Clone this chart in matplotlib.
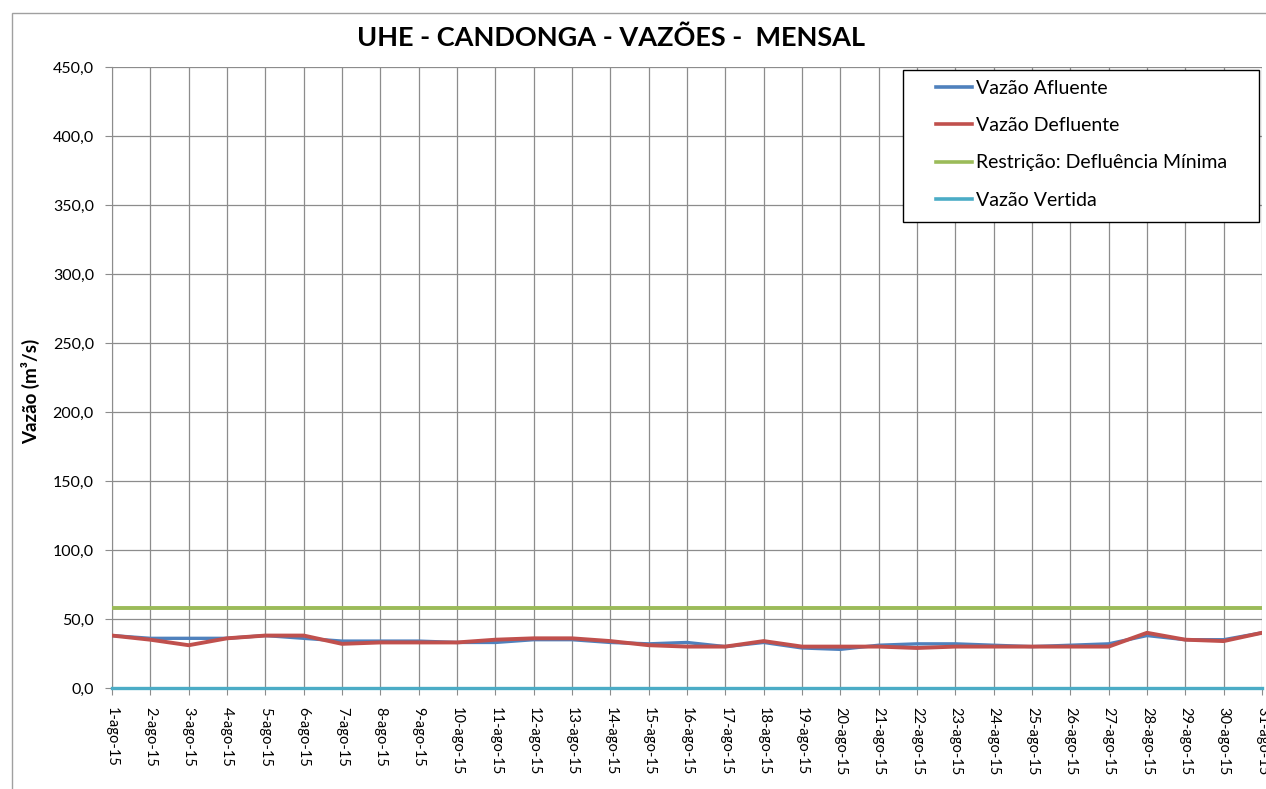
import matplotlib.pyplot as plt
from matplotlib.patches import Rectangle
from matplotlib.ticker import FuncFormatter, MultipleLocator

plt.rcParams['font.family'] = ['Lato', 'DejaVu Sans']

# daily values, August 2015 (m³/s)
dias = [f"{d}-ago-15" for d in range(1, 32)]
vazao_afluente = [38, 36, 36, 36, 38, 36, 34, 34, 34, 33,
                  33, 35, 35, 33, 32, 33, 30, 33, 29, 28,
                  31, 32, 32, 31, 30, 31, 32, 38, 35, 35, 40]
vazao_defluente = [38, 35, 31, 36, 38, 38, 32, 33, 33, 33,
                   35, 36, 36, 34, 31, 30, 30, 34, 30, 30,
                   30, 29, 30, 30, 30, 30, 30, 40, 35, 34, 40]
defluencia_minima = [58] * 31
vazao_vertida = [0] * 31

W, H = 1266, 789
fig = plt.figure(figsize=(W / 100, H / 100), dpi=100)
ax = fig.add_axes([112 / W, 1 - 688 / H, (1262 - 112) / W, (688 - 67) / H])

x = list(range(len(dias)))
ax.plot(x, vazao_afluente, color='#4F81BD', lw=2.4, label='Vazão Afluente', zorder=3)
ax.plot(x, vazao_defluente, color='#C0504D', lw=2.8, label='Vazão Defluente', zorder=4)
ax.plot(x, defluencia_minima, color='#9BBB59', lw=2.8, label='Restrição: Defluência Mínima', zorder=3)
ax.plot(x, vazao_vertida, color='#4BACC6', lw=2.4, label='Vazão Vertida', zorder=3, clip_on=False)

ax.set_xlim(0, 30)
ax.set_ylim(0, 450)
ax.yaxis.set_major_locator(MultipleLocator(50))
ax.yaxis.set_major_formatter(FuncFormatter(lambda v, p: f"{v:.1f}".replace('.', ',')))
ax.set_xticks(x)
ax.set_xticklabels(dias, rotation=270, ha='center', va='top')

ax.grid(True, color='#8C8C8C', lw=0.9)
ax.set_axisbelow(True)
for s in ['top', 'right']:
    ax.spines[s].set_visible(False)
for s in ['left', 'bottom']:
    ax.spines[s].set_color('#8C8C8C')
ax.tick_params(axis='both', colors='#8C8C8C', labelcolor='black', length=5)
ax.tick_params(axis='y', labelsize=11.5, pad=8)
ax.tick_params(axis='x', labelsize=10.5, pad=9)

ax.set_ylabel('Vazão (m³/s)', fontsize=13.5, fontweight='bold')
ax.yaxis.set_label_coords((40 - 112) / 1150, (688 - 391) / 621)

fig.text(611 / W, 1 - 38 / H, 'UHE - CANDONGA - VAZÕES -  MENSAL', ha='center', va='center',
         fontsize=19.5, fontweight='bold')

# legend: entries placed inside a hand-drawn frame
leg = ax.legend(loc='upper left', bbox_to_anchor=(936 / W, 1 - 80 / H),
                bbox_transform=fig.transFigure, frameon=False, fontsize=14,
                handlelength=1.85, handletextpad=0.2, labelspacing=1.04,
                borderpad=0, borderaxespad=0)
leg.set_zorder(10)
for ln in leg.get_lines():
    ln.set_linewidth(2.6)
ax.add_patch(Rectangle((903 / W, 1 - 222 / H), (1259 - 903) / W, (222 - 70) / H,
                       transform=fig.transFigure, facecolor='white', edgecolor='black',
                       lw=1.0, zorder=6, clip_on=False))

# outer chart border
fig.patches.append(Rectangle((12 / W, -0.05), 1.2, 1 - 13 / H + 0.05, transform=fig.transFigure,
                             fill=False, edgecolor='#A0A0A0', lw=1))

fig.savefig('out.png', dpi=100)
